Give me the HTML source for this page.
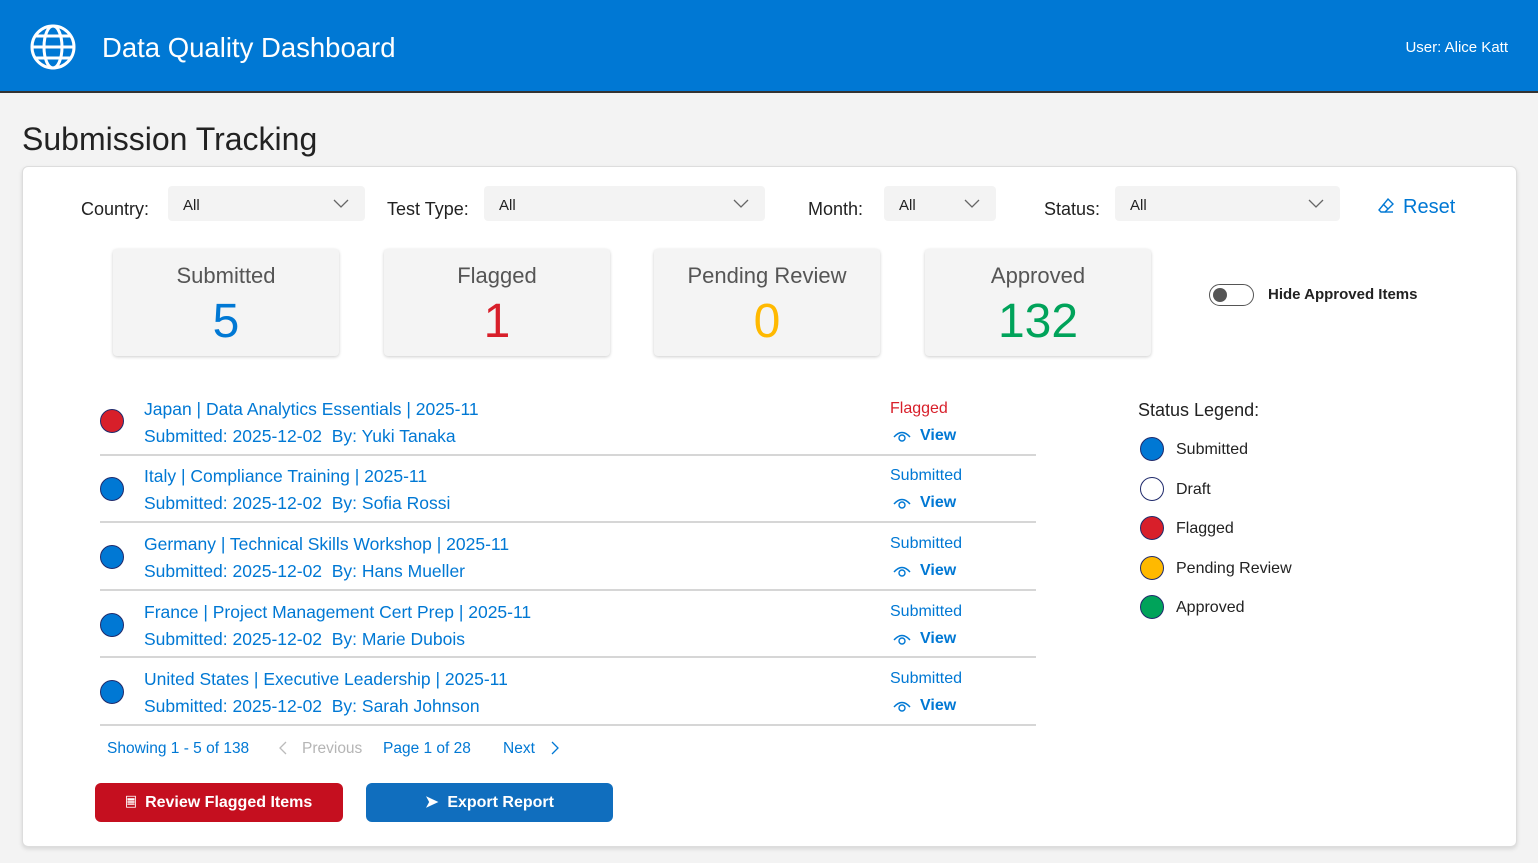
<!DOCTYPE html>
<html><head><meta charset="utf-8"><style>
*{margin:0;padding:0;box-sizing:border-box}
body{width:1538px;height:863px;background:#f3f3f3;font-family:"Liberation Sans",sans-serif;position:relative;overflow:hidden;color:#222}
.a{position:absolute;white-space:nowrap}
.hdr{left:0;top:0;width:1538px;height:93px;background:#0078d4;border-bottom:2px solid #333}
.card{left:22px;top:166px;width:1495px;height:681px;background:#fff;border:1px solid #ddd;border-radius:6px;box-shadow:0 2px 4px rgba(0,0,0,.12)}
.lbl{font-size:18px;color:#222;height:24px;line-height:24px}
.sel{height:35px;background:#f3f3f3;border-radius:4px;font-size:15px;line-height:39px;padding-left:15px;color:#222}
.sel svg{position:absolute;right:16px;top:13px}
.stat{width:226px;height:107px;background:#f4f4f4;border-radius:4px;box-shadow:0 1px 3px rgba(0,0,0,.2);text-align:center}
.stat .t{position:absolute;left:0;right:0;top:14px;font-size:22px;color:#555}
.stat .n{position:absolute;left:0;right:0;top:45px;font-size:48px;line-height:56px}
.dot{width:24px;height:24px;border-radius:50%;border:1.5px solid #1f2a6b}
.ln{font-size:17.5px;color:#0078d4;height:24px;line-height:24px}
.sep{height:2px;background:#d6d6d6;left:100px;width:936px}
.st{font-size:16px;height:20px;line-height:20px}
.vw{font-size:16px;font-weight:bold;color:#0078d4;height:20px;line-height:20px}
.lg{font-size:16px;color:#222;height:20px;line-height:20px}
.pg{font-size:16px;color:#0078d4;height:20px;line-height:20px}
.btn{height:39px;border-radius:6px;color:#fff;font-weight:bold;font-size:16px;line-height:39px;text-align:center}
</style></head><body>
<div class="a hdr"></div>
<svg class="a" style="left:30px;top:24px" width="46" height="46" viewBox="0 0 46 46" fill="none" stroke="#fff" stroke-width="3"><circle cx="23" cy="23" r="21"/><ellipse cx="23" cy="23" rx="9" ry="21"/><line x1="2" y1="23" x2="44" y2="23"/><path d="M6 12H40M6 34H40"/></svg>
<div class="a" style="left:102px;top:31px;font-size:27.5px;color:#fff;line-height:34px">Data Quality Dashboard</div>
<div class="a" style="right:30px;top:38px;font-size:15px;color:#fff;line-height:20px">User: Alice Katt</div>
<div class="a" style="left:22px;top:119px;font-size:32px;color:#222;line-height:40px">Submission Tracking</div>
<div class="a card"></div>

<div class="a lbl" style="left:81px;top:197px">Country:</div>
<div class="a sel" style="left:168px;top:186px;width:197px">All<svg width="16" height="10"><path d="M1 1L8 8L15 1" stroke="#666" fill="none" stroke-width="1.3"/></svg></div>
<div class="a lbl" style="left:387px;top:197px">Test Type:</div>
<div class="a sel" style="left:484px;top:186px;width:281px">All<svg width="16" height="10"><path d="M1 1L8 8L15 1" stroke="#666" fill="none" stroke-width="1.3"/></svg></div>
<div class="a lbl" style="left:808px;top:197px">Month:</div>
<div class="a sel" style="left:884px;top:186px;width:112px">All<svg width="16" height="10"><path d="M1 1L8 8L15 1" stroke="#666" fill="none" stroke-width="1.3"/></svg></div>
<div class="a lbl" style="left:1044px;top:197px">Status:</div>
<div class="a sel" style="left:1115px;top:186px;width:225px">All<svg width="16" height="10"><path d="M1 1L8 8L15 1" stroke="#666" fill="none" stroke-width="1.3"/></svg></div>
<svg class="a" style="left:1377px;top:197px" width="18" height="18" viewBox="0 0 18 18" fill="none" stroke="#0078d4" stroke-width="1.4"><path d="M11 2L16 7L8 15H4L2 13Z"/><path d="M6 7L11 12"/><path d="M8 15H16"/></svg>
<div class="a" style="left:1403px;top:194px;font-size:20px;color:#0078d4;line-height:26px">Reset</div>

<div class="a stat" style="left:113px;top:249px"><div class="t">Submitted</div><div class="n" style="color:#0078d4">5</div></div>
<div class="a stat" style="left:384px;top:249px"><div class="t">Flagged</div><div class="n" style="color:#d81f2a">1</div></div>
<div class="a stat" style="left:654px;top:249px"><div class="t">Pending Review</div><div class="n" style="color:#ffb900">0</div></div>
<div class="a stat" style="left:925px;top:249px"><div class="t">Approved</div><div class="n" style="color:#00a35a">132</div></div>

<div class="a" style="left:1209px;top:284px;width:45px;height:22px;border:1.5px solid #555;border-radius:11px"><div style="position:absolute;left:3px;top:3px;width:14px;height:14px;border-radius:50%;background:#555"></div></div>
<div class="a" style="left:1268px;top:285px;font-size:15px;font-weight:bold;color:#222;line-height:20px">Hide Approved Items</div>

<div class="a dot" style="left:100px;top:409px;background:#d81f2a"></div>
<div class="a ln" style="left:144px;top:397px">Japan | Data Analytics Essentials | 2025-11</div>
<div class="a ln" style="left:144px;top:424px">Submitted: 2025-12-02&nbsp; By: Yuki Tanaka</div>
<div class="a st" style="left:890px;top:399px;color:#d81f2a">Flagged</div>
<div class="a sep" style="top:454px"></div>

<div class="a dot" style="left:100px;top:477px;background:#0078d4"></div>
<div class="a ln" style="left:144px;top:464px">Italy | Compliance Training | 2025-11</div>
<div class="a ln" style="left:144px;top:491px">Submitted: 2025-12-02&nbsp; By: Sofia Rossi</div>
<div class="a st" style="left:890px;top:466px;color:#0078d4">Submitted</div>
<div class="a sep" style="top:521px"></div>

<div class="a dot" style="left:100px;top:545px;background:#0078d4"></div>
<div class="a ln" style="left:144px;top:532px">Germany | Technical Skills Workshop | 2025-11</div>
<div class="a ln" style="left:144px;top:559px">Submitted: 2025-12-02&nbsp; By: Hans Mueller</div>
<div class="a st" style="left:890px;top:534px;color:#0078d4">Submitted</div>
<div class="a sep" style="top:589px"></div>

<div class="a dot" style="left:100px;top:613px;background:#0078d4"></div>
<div class="a ln" style="left:144px;top:600px">France | Project Management Cert Prep | 2025-11</div>
<div class="a ln" style="left:144px;top:627px">Submitted: 2025-12-02&nbsp; By: Marie Dubois</div>
<div class="a st" style="left:890px;top:602px;color:#0078d4">Submitted</div>
<div class="a sep" style="top:656px"></div>

<div class="a dot" style="left:100px;top:680px;background:#0078d4"></div>
<div class="a ln" style="left:144px;top:667px">United States | Executive Leadership | 2025-11</div>
<div class="a ln" style="left:144px;top:694px">Submitted: 2025-12-02&nbsp; By: Sarah Johnson</div>
<div class="a st" style="left:890px;top:669px;color:#0078d4">Submitted</div>
<div class="a sep" style="top:724px"></div>

<svg class="a" style="left:893px;top:429px" width="18" height="14" viewBox="0 0 18 14" fill="none" stroke="#0078d4" stroke-width="1.4"><path d="M1 8Q9 -1 17 8"/><circle cx="9" cy="9" r="3"/></svg>
<div class="a vw" style="left:920px;top:426px">View</div>
<svg class="a" style="left:893px;top:496px" width="18" height="14" viewBox="0 0 18 14" fill="none" stroke="#0078d4" stroke-width="1.4"><path d="M1 8Q9 -1 17 8"/><circle cx="9" cy="9" r="3"/></svg>
<div class="a vw" style="left:920px;top:493px">View</div>
<svg class="a" style="left:893px;top:564px" width="18" height="14" viewBox="0 0 18 14" fill="none" stroke="#0078d4" stroke-width="1.4"><path d="M1 8Q9 -1 17 8"/><circle cx="9" cy="9" r="3"/></svg>
<div class="a vw" style="left:920px;top:561px">View</div>
<svg class="a" style="left:893px;top:632px" width="18" height="14" viewBox="0 0 18 14" fill="none" stroke="#0078d4" stroke-width="1.4"><path d="M1 8Q9 -1 17 8"/><circle cx="9" cy="9" r="3"/></svg>
<div class="a vw" style="left:920px;top:629px">View</div>
<svg class="a" style="left:893px;top:699px" width="18" height="14" viewBox="0 0 18 14" fill="none" stroke="#0078d4" stroke-width="1.4"><path d="M1 8Q9 -1 17 8"/><circle cx="9" cy="9" r="3"/></svg>
<div class="a vw" style="left:920px;top:696px">View</div>

<div class="a" style="left:1138px;top:398px;font-size:18px;color:#222;line-height:24px">Status Legend:</div>
<div class="a dot" style="left:1140px;top:437px;background:#0078d4"></div><div class="a lg" style="left:1176px;top:440px">Submitted</div>
<div class="a dot" style="left:1140px;top:477px;background:#fff"></div><div class="a lg" style="left:1176px;top:480px">Draft</div>
<div class="a dot" style="left:1140px;top:516px;background:#d81f2a"></div><div class="a lg" style="left:1176px;top:519px">Flagged</div>
<div class="a dot" style="left:1140px;top:556px;background:#ffb900"></div><div class="a lg" style="left:1176px;top:559px">Pending Review</div>
<div class="a dot" style="left:1140px;top:595px;background:#00a35a"></div><div class="a lg" style="left:1176px;top:598px">Approved</div>

<div class="a pg" style="left:107px;top:739px;font-size:15.5px">Showing 1 - 5 of 138</div>
<svg class="a" style="left:279px;top:741px" width="8" height="14"><path d="M7 1L1 7L7 13" stroke="#bbb" fill="none" stroke-width="1.3"/></svg>
<div class="a pg" style="left:302px;top:739px;color:#b5b5b5;font-size:15.5px">Previous</div>
<div class="a pg" style="left:383px;top:739px;font-size:15.5px">Page 1 of 28</div>
<div class="a pg" style="left:503px;top:739px;font-size:15.5px">Next</div>
<svg class="a" style="left:551px;top:741px" width="8" height="14"><path d="M1 1L7 7L1 13" stroke="#0078d4" fill="none" stroke-width="1.3"/></svg>

<div class="a btn" style="left:95px;top:783px;width:248px;background:#c50f1f"><span style="font-size:13px">&#128463;</span>&nbsp; Review Flagged Items</div>
<div class="a btn" style="left:366px;top:783px;width:247px;background:#106ebe"><span>&#10148;</span>&nbsp; Export Report</div>
</body></html>
